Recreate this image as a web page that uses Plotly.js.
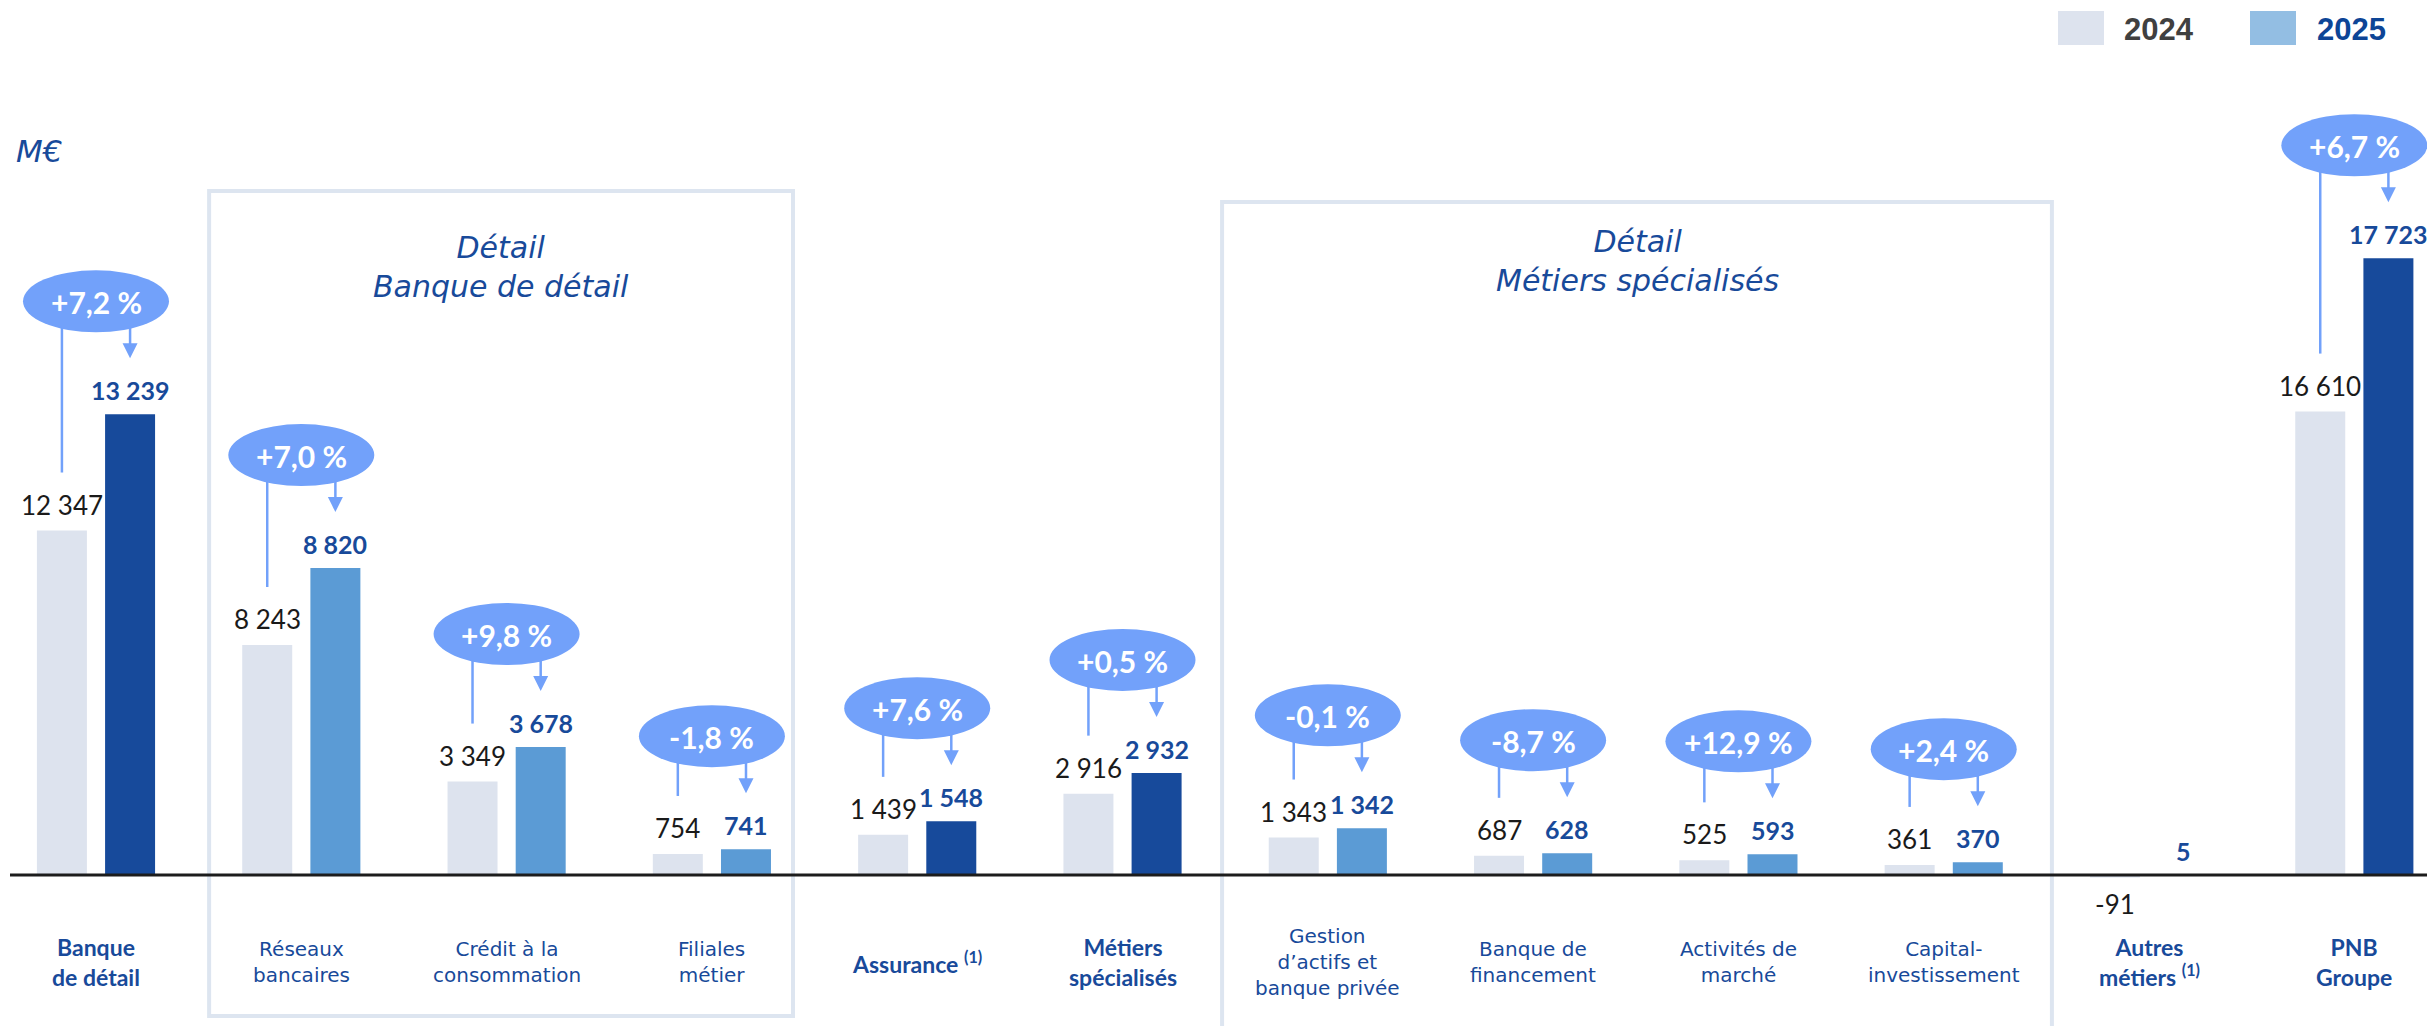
<!DOCTYPE html>
<html>
<head>
<meta charset="utf-8">
<script src="https://cdn.plot.ly/plotly-3.0.1.min.js"></script>
<style>html,body{margin:0;padding:0;background:#fff;overflow:hidden}</style>
</head>
<body>
<div id="chart" style="width:2427px;height:1026px"></div>
<script>
// ---------------- DATA ----------------
const categories = ["Banque de détail","Réseaux bancaires","Crédit à la consommation","Filiales métier","Assurance (1)","Métiers spécialisés","Gestion d’actifs et banque privée","Banque de financement","Activités de marché","Capital-investissement","Autres métiers (1)","PNB Groupe"];
const categoryLabels = ["Banque<br>de détail","Réseaux<br>bancaires","Crédit à la<br>consommation","Filiales<br>métier","Assurance <sup>(1)</sup>","Métiers<br>spécialisés","Gestion<br>d’actifs et<br>banque privée","Banque de<br>financement","Activités de<br>marché","Capital-<br>investissement","Autres<br>métiers <sup>(1)</sup>","PNB<br>Groupe"];
const categoryLevel = ["total","detail","detail","detail","total","total","detail","detail","detail","detail","total","total"];
const values2024 = [12347, 8243, 3349, 754, 1439, 2916, 1343, 687, 525, 361, -91, 16610];
const values2025 = [13239, 8820, 3678, 741, 1548, 2932, 1342, 628, 593, 370, 5, 17723];
const changes = ["+7,2 %","+7,0 %","+9,8 %","-1,8 %","+7,6 %","+0,5 %","-0,1 %","-8,7 %","+12,9 %","+2,4 %",null,"+6,7 %"];
const seriesNames = ["2024","2025"];
const unitLabel = "M€";
const groupTitles = ["Détail<br>Banque de détail","Détail<br>Métiers spécialisés"];

// ---------------- STYLE ----------------
const C_2024 = "#dde3ee", C_DARK = "#174a9b", C_MID = "#5b9bd5", C_BUBBLE = "#72a1fa";
const C_TXT_BLUE = "#184a9a", C_BOX = "#dde5f0";
const NUM_FONT = "Lato, 'Open Sans', sans-serif";
const LBL_FONT = "'DejaVu Sans', Lato, sans-serif";
const OFF = 0.166, BW = 0.2435;
const BUBBLE_DY = 113, BUBBLE_RX = 73, BUBBLE_RY = 31;
const LABEL_DY = 26, ARROW_TIP_DY = 56, LINE_GAP = 58;

function fmt(v){
  const s = Math.abs(v).toString().replace(/\B(?=(\d{3})+(?!\d))/g, " ");
  return (v < 0 ? "-" : "") + s;
}

const colors2025 = categoryLevel.map(l => l === "total" ? C_DARK : C_MID);

const traces = [
  {type:"bar", name:seriesNames[0], x:categories, y:values2024, yaxis:"y",
   offset:-OFF-BW/2, width:BW, marker:{color:C_2024, line:{width:0}}, hoverinfo:"skip"},
  {type:"bar", name:seriesNames[1], x:categories, y:values2025, yaxis:"y2",
   offset:OFF-BW/2, width:BW, marker:{color:colors2025, line:{width:0}}, hoverinfo:"skip"}
];

const annotations = [];
const baseShapes = [];
const bubbleShapes = [];

categories.forEach((c,i) => {
  const v1 = values2024[i], v2 = values2025[i];
  annotations.push({xref:"x", yref:"y", x:i-OFF, y:v1, yshift: v1 >= 0 ? LABEL_DY : -LABEL_DY,
    text:fmt(v1), showarrow:false, yanchor:"middle", xanchor:"center",
    font:{family:NUM_FONT, size:26, color:"#1a1a1a"}});
  annotations.push({xref:"x", yref:"y2", x:i+OFF, y:v2, yshift: v2 >= 0 ? LABEL_DY-2 : -LABEL_DY,
    text:"<b>"+fmt(v2)+"</b>", showarrow:false, yanchor:"middle", xanchor:"center",
    font:{family:NUM_FONT, size:25, color:C_TXT_BLUE}});
  const tot = categoryLevel[i] === "total";
  annotations.push({xref:"x", yref:"paper", x:i, y:1-962/1026, yanchor:"middle", xanchor:"center",
    text: tot ? "<b>"+categoryLabels[i]+"</b>" : categoryLabels[i], showarrow:false,
    font: tot ? {family:NUM_FONT, size:23, color:C_TXT_BLUE} : {family:LBL_FONT, size:20, color:C_TXT_BLUE}});
  if (changes[i]) {
    bubbleShapes.push({type:"line", xref:"x", yref:"y2", xsizemode:"pixel", ysizemode:"pixel",
      xanchor:i+OFF, yanchor:v2, x0:0, x1:0, y0:ARROW_TIP_DY+12, y1:BUBBLE_DY-BUBBLE_RY+6,
      line:{color:C_BUBBLE, width:2.5}, layer:"above"});
    bubbleShapes.push({type:"path", xref:"x", yref:"y2", xsizemode:"pixel", ysizemode:"pixel",
      xanchor:i+OFF, yanchor:v2,
      path:"M-7.5,"+(ARROW_TIP_DY+15)+" L7.5,"+(ARROW_TIP_DY+15)+" L0,"+ARROW_TIP_DY+" Z",
      fillcolor:C_BUBBLE, line:{width:0}, layer:"above"});
    bubbleShapes.push({type:"circle", xref:"x", yref:"y2", xsizemode:"pixel", ysizemode:"pixel",
      xanchor:i, yanchor:v2, x0:-BUBBLE_RX, x1:BUBBLE_RX, y0:BUBBLE_DY-BUBBLE_RY, y1:BUBBLE_DY+BUBBLE_RY,
      fillcolor:C_BUBBLE, line:{width:0}, layer:"above"});
    annotations.push({xref:"x", yref:"y2", x:i, y:v2, yshift:BUBBLE_DY-1, text:"<b>"+changes[i]+"</b>",
      showarrow:false, yanchor:"middle", xanchor:"center",
      font:{family:NUM_FONT, size:30, color:"#ffffff"}});
  }
});

// group boxes
baseShapes.push({type:"rect", xref:"x", yref:"paper", x0:0.551, x1:3.395, y0:1-1016/1026, y1:1-191/1026,
  line:{color:C_BOX, width:4}, fillcolor:"rgba(0,0,0,0)", layer:"below"});
baseShapes.push({type:"rect", xref:"x", yref:"paper", x0:5.485, x1:9.527, y0:-0.05, y1:1-202/1026,
  line:{color:C_BOX, width:4}, fillcolor:"rgba(0,0,0,0)", layer:"below"});
annotations.push({xref:"x", yref:"paper", x:1.973, y:1-267/1026, text:"<i>"+groupTitles[0]+"</i>",
  showarrow:false, yanchor:"middle", font:{family:LBL_FONT, size:30, color:C_TXT_BLUE}});
annotations.push({xref:"x", yref:"paper", x:7.506, y:1-261/1026, text:"<i>"+groupTitles[1]+"</i>",
  showarrow:false, yanchor:"middle", font:{family:LBL_FONT, size:30, color:C_TXT_BLUE}});
// unit
annotations.push({xref:"paper", yref:"paper", x:39/2427, y:1-151/1026, text:"<i>"+unitLabel+"</i>",
  showarrow:false, xanchor:"center", yanchor:"middle", font:{family:LBL_FONT, size:31, color:C_TXT_BLUE}});
// baseline
baseShapes.push({type:"line", xref:"paper", yref:"y", x0:10/2427, x1:1, y0:0, y1:0,
  line:{color:"#1c1c1c", width:3}, layer:"above"});
// legend
baseShapes.push({type:"rect", xref:"paper", yref:"paper", x0:2058/2427, x1:2104/2427, y0:1-45/1026, y1:1-11/1026,
  fillcolor:C_2024, line:{width:0}});
baseShapes.push({type:"rect", xref:"paper", yref:"paper", x0:2250/2427, x1:2296/2427, y0:1-45/1026, y1:1-11/1026,
  fillcolor:"#93bee3", line:{width:0}});
annotations.push({xref:"paper", yref:"paper", x:2122/2427, y:1-30/1026, xanchor:"left", yanchor:"middle",
  text:"<b>"+seriesNames[0]+"</b>", showarrow:false, font:{family:"'Liberation Sans', Arial, sans-serif", size:31, color:"#404040"}});
annotations.push({xref:"paper", yref:"paper", x:2315/2427, y:1-30/1026, xanchor:"left", yanchor:"middle",
  text:"<b>"+seriesNames[1]+"</b>", showarrow:false, font:{family:"'Liberation Sans', Arial, sans-serif", size:31, color:"#0d4596"}});

const layout = {
  width:2427, height:1026, margin:{l:0,r:0,t:0,b:0,pad:0},
  paper_bgcolor:"#ffffff", plot_bgcolor:"#ffffff", showlegend:false, barmode:"overlay",
  xaxis:{type:"category", range:[-0.4676, 11.354], visible:false, fixedrange:true},
  yaxis:{range:[-5412, 31362], visible:false, fixedrange:true},
  yaxis2:{range:[-4339, 25144], visible:false, overlaying:"y", fixedrange:true},
  shapes: baseShapes.concat(bubbleShapes),
  annotations: annotations
};

const gd = document.getElementById("chart");
Plotly.newPlot(gd, traces, layout, {staticPlot:true, displayModeBar:false}).then(() => {
  const ya = gd._fullLayout.yaxis, ya2 = gd._fullLayout.yaxis2;
  const lines = [];
  categories.forEach((c,i) => {
    if (!changes[i]) return;
    const pTop = ya2.l2p(values2025[i]) - BUBBLE_DY + 18;
    const pBot = ya.l2p(values2024[i]) - LINE_GAP;
    lines.push({type:"line", xref:"x", yref:"y", x0:i-OFF, x1:i-OFF, y0:ya.p2l(pBot), y1:ya.p2l(pTop),
      line:{color:C_BUBBLE, width:2.5}, layer:"above"});
  });
  return Plotly.relayout(gd, {shapes: baseShapes.concat(lines, bubbleShapes)});
});
</script>
</body>
</html>
